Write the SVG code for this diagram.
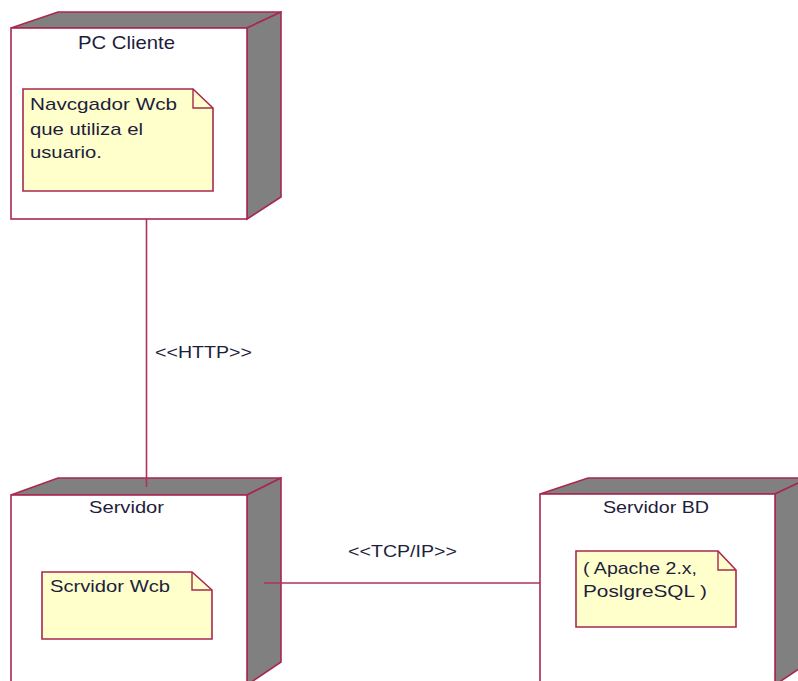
<svg xmlns="http://www.w3.org/2000/svg" width="798" height="681" viewBox="0 0 798 681">
  <style>
    .front { fill: #ffffff; stroke: #a8284f; stroke-width: 1.6; }
    .side { fill: #808080; stroke: #a8284f; stroke-width: 1.6; stroke-linejoin: miter; }
    .note { fill: #ffffcc; stroke: #a8284f; stroke-width: 1.6; }
    .fold { fill: none; stroke: #a8284f; stroke-width: 1.4; }
    .link { stroke: #b03060; stroke-width: 1.6; fill: none; }
    text { font-family: "Liberation Sans", Arial, sans-serif; fill: #1e1e3c; }
    .title { font-size: 19px; }
    .label { font-size: 17px; }
  </style>
  <rect width="798" height="681" fill="#ffffff"/>

  <!-- client node -->
  <g id="pc-cliente">
    <polygon class="side" points="11,28 58,12 281,12 247,28"/>
    <polygon class="side" points="247,28 281,12 281,197 247,219"/>
    <rect class="front" x="11" y="28" width="236" height="191"/>
    <text class="title" x="78" y="49" textLength="97" lengthAdjust="spacingAndGlyphs">PC Cliente</text>
    <g id="nota-navegador">
      <path class="note" d="M23,89 H193 L213,108 V191 H23 Z"/>
      <path class="fold" d="M193,89 V108 H213"/>
      <text class="label" x="30" y="110" textLength="147" lengthAdjust="spacingAndGlyphs">Navcgador Wcb</text>
      <text class="label" x="30" y="135" textLength="113" lengthAdjust="spacingAndGlyphs">que utiliza el</text>
      <text class="label" x="30" y="158" textLength="72" lengthAdjust="spacingAndGlyphs">usuario.</text>
    </g>
  </g>

  <!-- application server node -->
  <g id="servidor">
    <polygon class="side" points="11,495 58,478 281,478 247,495"/>
    <polygon class="side" points="247,495 281,478 281,662 247,685"/>
    <rect class="front" x="11" y="495" width="236" height="210"/>
    <text class="label" x="89" y="513" textLength="75" lengthAdjust="spacingAndGlyphs">Servidor</text>
    <g id="nota-servidor-web">
      <path class="note" d="M42,572 H192 L212,590 V639 H42 Z"/>
      <path class="fold" d="M192,572 V590 H212"/>
      <text class="label" x="50" y="592" textLength="120" lengthAdjust="spacingAndGlyphs">Scrvidor Wcb</text>
    </g>
  </g>

  <!-- database server node -->
  <g id="servidor-bd">
    <polygon class="side" points="540,494 588,478 809,478 775,494"/>
    <polygon class="side" points="775,494 809,478 809,662 775,685"/>
    <rect class="front" x="540" y="494" width="235" height="210"/>
    <text class="label" x="603" y="513" textLength="106" lengthAdjust="spacingAndGlyphs">Servidor BD</text>
    <g id="nota-bd">
      <path class="note" d="M576,551 H718 L736,570 V627 H576 Z"/>
      <path class="fold" d="M718,551 V570 H736"/>
      <text class="label" x="583" y="574" textLength="114" lengthAdjust="spacingAndGlyphs">( Apache 2.x,</text>
      <text class="label" x="583" y="597" textLength="124" lengthAdjust="spacingAndGlyphs">PoslgreSQL )</text>
    </g>
  </g>

  <!-- connectors, drawn over the node faces -->
  <g id="connectors">
    <line class="link" x1="146.5" y1="219" x2="146.5" y2="487"/>
    <text class="label" x="155" y="358" textLength="97" lengthAdjust="spacingAndGlyphs">&lt;&lt;HTTP&gt;&gt;</text>
    <line class="link" x1="264" y1="583" x2="540" y2="583"/>
    <text class="label" x="348" y="557" textLength="109" lengthAdjust="spacingAndGlyphs">&lt;&lt;TCP/IP&gt;&gt;</text>
  </g>
</svg>
